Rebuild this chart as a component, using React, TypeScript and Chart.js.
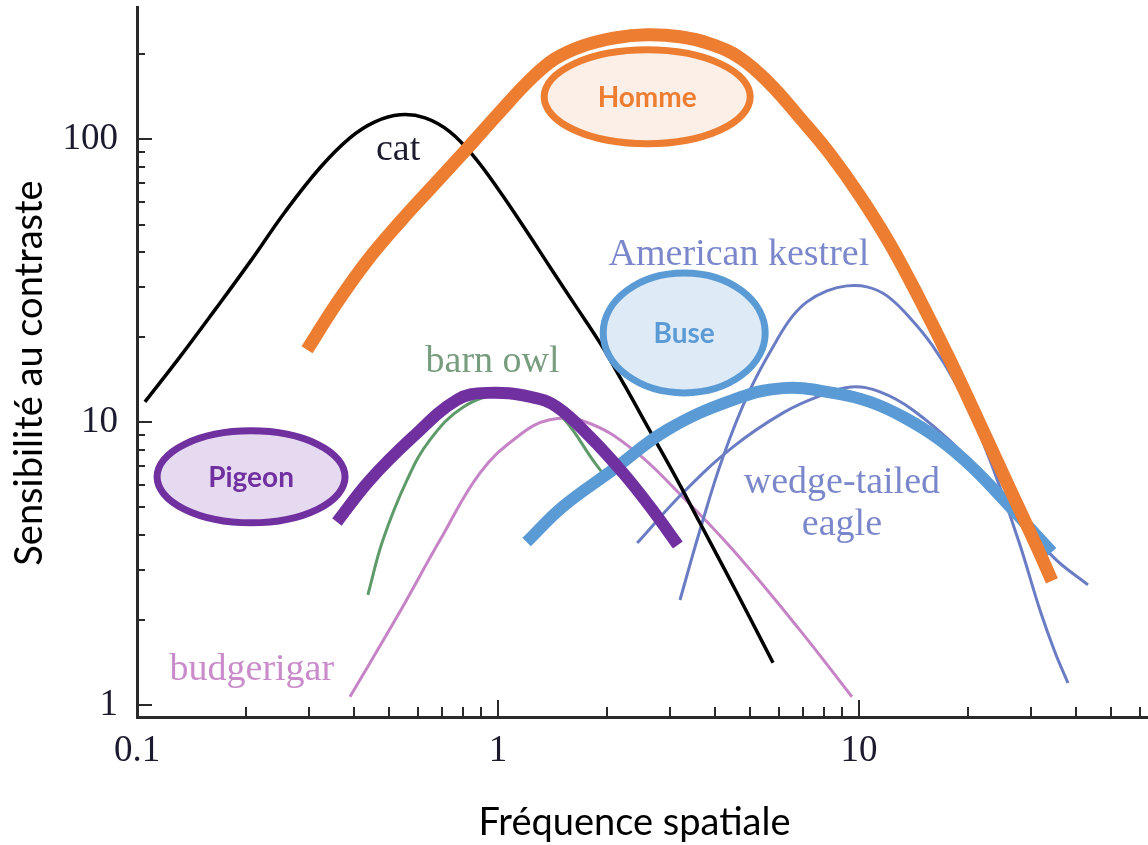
import React, { useEffect, useRef } from 'react';
import { Chart, registerables } from 'chart.js';

Chart.register(...registerables);

// ---- Data (spatial frequency, contrast sensitivity) ----
const catF = [0.1052, 0.1315, 0.1644, 0.2056, 0.257, 0.3213, 0.389, 0.4563, 0.5354, 0.6278, 0.7362, 0.8636, 1.013, 1.188, 1.393, 1.634, 1.917, 2.247, 2.636, 3.093, 3.628, 4.254, 4.99, 5.78];
const catS = [11.8, 17.02, 24.96, 36.9, 55.4, 79.4, 101.3, 115.4, 122.2, 119.2, 106.4, 86.1, 65.3, 48.3, 35.4, 26.0, 19.08, 13.44, 9.32, 6.46, 4.4, 3.0, 2.03, 1.41];

const hommeF = [0.2958, 0.358, 0.4337, 0.5354, 0.6605, 0.8155, 1.013, 1.226, 1.439, 1.72, 2.109, 2.587, 3.193, 3.866, 4.681, 5.668, 6.864, 8.311, 10.06, 12.19, 14.76, 17.87, 21.64, 26.2, 31.12, 34.24];
const hommeS = [18.03, 26.42, 37.2, 51.1, 68.5, 91.9, 125.2, 162.4, 192.8, 214.4, 228.8, 234.4, 230.7, 217.8, 194.4, 157.3, 119.2, 88.9, 63.2, 42.7, 27.08, 16.61, 9.86, 5.81, 3.62, 2.746];

const pigeonF = [0.358, 0.442, 0.581, 0.77, 0.932, 1.23, 1.46, 1.8, 2.22, 2.64, 3.15];
const pigeonS = [4.44, 6.25, 8.87, 12.0, 12.7, 12.3, 11.3, 8.87, 6.62, 5.02, 3.68];

const buseF = [1.2, 1.51, 2.08, 2.94, 4.48, 6.16, 8.47, 10.73, 13.41, 16.76, 20.69, 26.71, 34.24];
const buseS = [3.77, 5.02, 6.78, 9.39, 12.0, 13.2, 12.7, 11.8, 10.36, 8.66, 6.89, 4.895, 3.477];

const owlF = [0.436, 0.48, 0.56, 0.648, 0.8, 1.01, 1.31, 1.53, 1.83, 1.95];
const owlS = [2.45, 3.83, 6.25, 8.66, 11.3, 12.5, 12.0, 10.2, 7.36, 6.6];

const budgieF = [0.389, 0.525, 0.691, 0.892, 1.13, 1.39, 1.76, 2.37, 3.25, 4.48, 6.86, 9.56];
const budgieS = [1.07, 2.05, 3.83, 6.62, 8.87, 10.2, 10.0, 7.98, 5.44, 3.53, 1.84, 1.07];

const kestrelF = [3.193, 3.628, 4.201, 4.99, 5.928, 6.522, 7.178, 8.154, 9.264, 10.52, 11.96, 13.85, 15.93, 18.45, 21.23, 24.58, 27.93, 31.72, 34.9, 37.93];
const kestrelS = [2.351, 4.159, 7.54, 13.01, 19.55, 23.58, 26.65, 29.14, 30.35, 30.1, 27.98, 23.38, 18.77, 13.88, 9.546, 5.904, 3.681, 2.168, 1.54, 1.196];

const wedgeF = [2.43, 3.25, 4.48, 6.16, 7.798, 9.502, 11.43, 14.1, 19.0, 24.6, 34.5, 43.1];
const wedgeS = [3.74, 5.62, 8.18, 10.79, 12.39, 13.33, 12.8, 11.05, 7.98, 5.53, 3.34, 2.66];

// ---- Axes ----
const xTickValues = [0.1, 1, 10];
const xTickLabels = ['0.1', '1', '10'];
const yTickValues = [1, 10, 100];
const yTickLabels = ['1', '10', '100'];
const xMinorTicks = [0.2, 0.3, 0.4, 0.5, 0.6, 0.7, 0.8, 0.9, 2, 3, 4, 5, 6, 7, 8, 9, 20, 30, 40, 50, 60];
const yMinorTicks = [2, 3, 4, 5, 6, 7, 8, 9, 20, 30, 40, 50, 60, 70, 80, 90, 200];
const xRange = [0.1, 63.2];
const yRange = [0.907, 294];
const xTitle = 'Fréquence spatiale';
const yTitle = 'Sensibilité au contraste';

// ---- Annotations (positions in data units) ----
const curveLabels = ['cat', 'American kestrel', 'barn owl', 'wedge-tailed', 'eagle', 'budgerigar'];
const curveLabelF = [0.529, 4.65, 0.966, 8.97, 8.97, 0.208];
const curveLabelS = [84.7, 36.0, 15.07, 5.62, 3.99, 1.226];
const curveLabelColors = ['#1c1c2e', '#7b87cb', '#779c7e', '#7b87cb', '#7b87cb', '#c98bc9'];

const bubbleLabels = ['Homme', 'Buse', 'Pigeon'];
const bubbleF = [2.59, 3.28, 0.207];
const bubbleS = [141.5, 20.7, 6.41];
const bubbleStyles = [
  { rx: 103, ry: 47, stroke: '#ED7D31', fill: '#FCEFE7' },
  { rx: 81, ry: 60, stroke: '#5B9BD5', fill: '#DEEAF6' },
  { rx: 94, ry: 46, stroke: '#7030A0', fill: '#E6DAF1' },
];

const pts = (f: number[], s: number[]) => f.map((v, i) => ({ x: v, y: s[i] }));
const line = (label: string, f: number[], s: number[], color: string, width: number) => ({
  label,
  data: pts(f, s),
  borderColor: color,
  backgroundColor: color,
  borderWidth: width,
  pointRadius: 0,
  pointHoverRadius: 0,
  fill: false,
  tension: 0.4,
  borderCapStyle: 'butt' as const,
  borderJoinStyle: 'round' as const,
});

const decor = {
  id: 'decor',
  afterDatasetsDraw(chart: any) {
    const { ctx } = chart;
    const xs = chart.scales.x;
    const ys = chart.scales.y;
    ctx.save();
    ctx.textAlign = 'center';
    ctx.textBaseline = 'alphabetic';
    ctx.font = '38px "Liberation Serif"';
    curveLabels.forEach((t, i) => {
      ctx.fillStyle = curveLabelColors[i];
      ctx.fillText(t, xs.getPixelForValue(curveLabelF[i]), ys.getPixelForValue(curveLabelS[i]));
    });
    bubbleLabels.forEach((t, i) => {
      const st = bubbleStyles[i];
      const cx = xs.getPixelForValue(bubbleF[i]);
      const cy = ys.getPixelForValue(bubbleS[i]);
      ctx.beginPath();
      ctx.ellipse(cx, cy, st.rx, st.ry, 0, 0, Math.PI * 2);
      ctx.fillStyle = st.fill;
      ctx.fill();
      ctx.lineWidth = 7;
      ctx.strokeStyle = st.stroke;
      ctx.stroke();
      ctx.font = 'bold 28px Lato';
      ctx.fillStyle = st.stroke;
      ctx.textBaseline = 'middle';
      ctx.fillText(t, cx, cy + 1);
      ctx.textBaseline = 'alphabetic';
    });
    ctx.restore();
  },
  afterDraw(chart: any) {
    const { ctx, chartArea } = chart;
    const xs = chart.scales.x;
    const ys = chart.scales.y;
    ctx.save();
    ctx.strokeStyle = '#2a2a2a';
    ctx.lineWidth = 2;
    const xTick = (v: number, len: number) => {
      const px = Math.round(xs.getPixelForValue(v));
      ctx.beginPath();
      ctx.moveTo(px, chartArea.bottom);
      ctx.lineTo(px, chartArea.bottom - len);
      ctx.stroke();
    };
    const yTick = (v: number, len: number) => {
      const py = Math.round(ys.getPixelForValue(v));
      ctx.beginPath();
      ctx.moveTo(chartArea.left, py);
      ctx.lineTo(chartArea.left + len, py);
      ctx.stroke();
    };
    xTickValues.forEach((v) => xTick(v, 17));
    xMinorTicks.forEach((v) => xTick(v, 10));
    yTickValues.forEach((v) => yTick(v, 15));
    yMinorTicks.forEach((v) => yTick(v, 8));

    ctx.fillStyle = '#000';
    ctx.font = '38px Lato';
    ctx.textAlign = 'center';
    ctx.textBaseline = 'alphabetic';
    ctx.fillText(xTitle, (chartArea.left + chartArea.right) / 2 - 8, chartArea.bottom + 118);
    ctx.translate(42, (chartArea.top + chartArea.bottom) / 2 + 11);
    ctx.rotate(-Math.PI / 2);
    ctx.fillText(yTitle, 0, 0);
    ctx.restore();
  },
};

export default function App() {
  const ref = useRef<HTMLCanvasElement>(null);
  useEffect(() => {
    if (!ref.current) return;
    const chart = new Chart(ref.current, {
      type: 'line',
      data: {
        datasets: [
          line('Homme', hommeF, hommeS, '#ED7D31', 13),
          line('Pigeon', pigeonF, pigeonS, '#7030A0', 12),
          line('Buse', buseF, buseS, '#5B9BD5', 12),
          line('cat', catF, catS, '#000000', 3.5),
          line('American kestrel', kestrelF, kestrelS, '#6a7cc4', 3),
          line('wedge-tailed eagle', wedgeF, wedgeS, '#6a7cc4', 3),
          line('barn owl', owlF, owlS, '#5e9a6a', 3),
          line('budgerigar', budgieF, budgieS, '#c683c6', 3),
        ],
      },
      options: {
        responsive: false,
        animation: false,
        layout: { padding: { top: 7, right: 0, left: 0, bottom: 0 } },
        plugins: { legend: { display: false }, tooltip: { enabled: false } },
        scales: {
          x: {
            type: 'logarithmic',
            min: xRange[0],
            max: xRange[1],
            grid: { display: false, drawTicks: false, tickLength: 0 },
            border: { display: true, color: '#2a2a2a', width: 3 },
            afterBuildTicks: (s: any) => {
              s.ticks = xTickValues.map((v) => ({ value: v }));
            },
            afterFit: (s: any) => {
              s.height = 128;
              s.paddingLeft = 0;
              s.paddingRight = 0;
              s.paddingTop = 0;
              s.paddingBottom = 0;
            },
            ticks: {
              autoSkip: false,
              maxRotation: 0,
              minRotation: 0,
              padding: 12,
              color: '#1b1b30',
              font: { family: '"Liberation Serif"', size: 37 },
              callback: (_v: any, i: number) => xTickLabels[i],
            },
          },
          y: {
            type: 'logarithmic',
            min: yRange[0],
            max: yRange[1],
            grid: { display: false, drawTicks: false, tickLength: 0 },
            border: { display: true, color: '#2a2a2a', width: 3 },
            afterBuildTicks: (s: any) => {
              s.ticks = yTickValues.map((v) => ({ value: v }));
            },
            afterFit: (s: any) => {
              s.width = 137;
              s.paddingLeft = 0;
              s.paddingRight = 0;
              s.paddingTop = 0;
              s.paddingBottom = 0;
            },
            ticks: {
              autoSkip: false,
              padding: 19,
              color: '#1b1b30',
              font: { family: '"Liberation Serif"', size: 37 },
              callback: (_v: any, i: number) => yTickLabels[i],
            },
          },
        },
      },
      plugins: [decor],
    } as any);
    return () => chart.destroy();
  }, []);
  return (
    <div style={{ position: 'absolute', left: 0, top: 0, width: 1148, height: 845, background: '#fff' }}>
      <canvas ref={ref} width={1148} height={845} />
    </div>
  );
}
